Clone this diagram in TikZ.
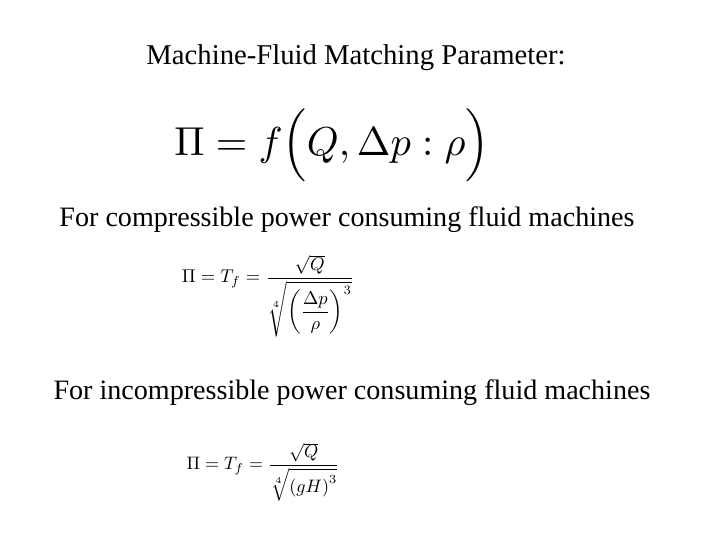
\documentclass[tikz,border=0pt]{standalone}
\usepackage{fontspec}
\setmainfont{Liberation Serif}
\usepackage{amsmath}
\usepackage{graphicx}
\begin{document}
\begin{tikzpicture}[x=1bp,y=-1bp,txt/.style={inner sep=0pt,font=\fontsize{28.8}{34}\selectfont}]
\useasboundingbox (0,0) rectangle (720,540);
\node[txt] (title) at (356,58) {Machine-Fluid Matching Parameter:};
\node[inner sep=0pt] (f1) at (332,145) {\resizebox{315bp}{!}{$\Pi = f\Big(Q,\Delta p:\rho\Big)$}};
\node[txt,font=\fontsize{28.2}{34}\selectfont] (l2) at (347,220) {For compressible power consuming fluid machines};
\node[inner sep=0pt] (f2) at (268,296) {\resizebox{172bp}{!}{$\Pi = T_f = \dfrac{\sqrt{Q}}{\sqrt[4]{\left(\dfrac{\Delta p}{\rho}\right)^{3}}}$}};
\node[txt,font=\fontsize{28.2}{34}\selectfont] (l3) at (352,393) {For incompressible power consuming fluid machines};
\node[inner sep=0pt] (f3) at (263,472) {\resizebox{153bp}{!}{$\Pi = T_f = \dfrac{\sqrt{Q}}{\sqrt[4]{\left(gH\right)^{3}}}$}};
\end{tikzpicture}
\end{document}
